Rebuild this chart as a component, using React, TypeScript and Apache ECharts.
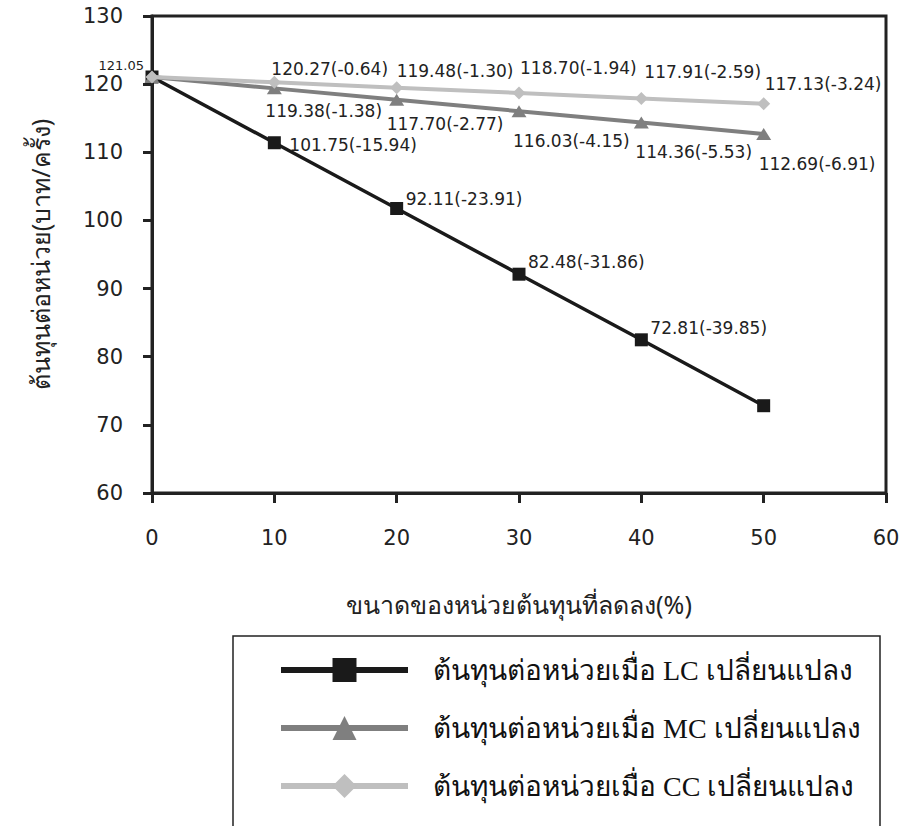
import React, { useEffect, useRef } from "react";
import * as echarts from "echarts";

const xValues = [0, 10, 20, 30, 40, 50];
const lcValues = [121.05, 111.4, 101.75, 92.11, 82.48, 72.81];
const mcValues = [121.05, 119.38, 117.7, 116.03, 114.36, 112.69];
const ccValues = [121.05, 120.27, 119.48, 118.7, 117.91, 117.13];

const lcLabels = ["", "101.75(-15.94)", "92.11(-23.91)", "82.48(-31.86)", "72.81(-39.85)", ""];
const mcLabels = ["", "119.38(-1.38)", "117.70(-2.77)", "116.03(-4.15)", "114.36(-5.53)", "112.69(-6.91)"];
const ccLabels = ["121.05", "120.27(-0.64)", "119.48(-1.30)", "118.70(-1.94)", "117.91(-2.59)", "117.13(-3.24)"];

const seriesNames = [
  "ต้นทุนต่อหน่วยเมื่อ LC เปลี่ยนแปลง",
  "ต้นทุนต่อหน่วยเมื่อ MC เปลี่ยนแปลง",
  "ต้นทุนต่อหน่วยเมื่อ CC เปลี่ยนแปลง",
];
const xAxisTitle = "ขนาดของหน่วยต้นทุนที่ลดลง(%)";
const yAxisTitle = "ต้นทุนต่อหน่วย(บาท/ครั้ง)";

// label placement (style only)
const lcOffsets = [null, [15, 2], [9, -10], [9, -12], [9, -12], null];
const mcOffsets = [null, [-9, 23], [-10, 24], [-6, 30], [-6, 29], [-5, 30]];
const ccOffsets = [[-8, -11], [-3, -13], [0, -17], [1, -25], [3, -26], [1, -20]];

const NUM_FONT = "'DejaVu Sans', sans-serif";
const THAI_FONT = "'Noto Sans', 'DejaVu Sans', sans-serif";
const SERIF_FONT = "'Liberation Serif', 'DejaVu Serif', serif";

function buildData(values: number[], labels: string[], offsets: any[]) {
  return values.map((v, i) => {
    const text = labels[i];
    const off = offsets[i] || [0, 0];
    const first = i === 0 && text === "121.05";
    return {
      value: [xValues[i], v],
      label: {
        show: !!text,
        formatter: text,
        position: "inside",
        align: first ? "right" : "left",
        verticalAlign: "middle",
        offset: off,
        color: "#222",
        fontSize: first ? 13 : 17,
        fontFamily: NUM_FONT,
        textBorderWidth: 0,
      },
    };
  });
}

export default function App() {
  const ref = useRef<HTMLDivElement>(null);
  useEffect(() => {
    document.body.style.margin = "0";
    if (!ref.current) return;
    const chart = echarts.init(ref.current, undefined, { renderer: "svg" });
    const axisColor = "#222";
    chart.setOption({
      animation: false,
      backgroundColor: "#fff",
      grid: {
        left: 152,
        right: 20,
        top: 16,
        bottom: 333,
        show: true,
        borderColor: axisColor,
        borderWidth: 3,
        backgroundColor: "transparent",
      },
      xAxis: {
        type: "value",
        min: 0,
        max: 60,
        interval: 10,
        name: xAxisTitle,
        nameLocation: "middle",
        nameGap: 98,
        nameTextStyle: { fontSize: 25, fontFamily: THAI_FONT, color: "#222" },
        axisLine: { lineStyle: { color: axisColor, width: 3 } },
        axisTick: { show: true, length: 10, lineStyle: { color: axisColor, width: 3 } },
        axisLabel: { margin: 34, fontSize: 21, fontFamily: NUM_FONT, color: "#222" },
        splitLine: { show: false },
      },
      yAxis: {
        type: "value",
        min: 60,
        max: 130,
        interval: 10,
        name: yAxisTitle,
        nameLocation: "middle",
        nameRotate: 90,
        nameGap: 100,
        nameTextStyle: { fontSize: 25, fontFamily: THAI_FONT, color: "#222" },
        axisLine: { show: true, lineStyle: { color: axisColor, width: 3 } },
        axisTick: { show: true, length: 9, lineStyle: { color: axisColor, width: 3 } },
        axisLabel: { margin: 29, fontSize: 21, fontFamily: NUM_FONT, color: "#222" },
        splitLine: { show: false },
      },
      legend: {
        orient: "vertical",
        left: 278,
        top: 656,
        padding: 0,
        itemWidth: 127,
        itemHeight: 30,
        itemGap: 30,
        lineStyle: { width: 6 },
        textStyle: {
          fontSize: 28,
          fontFamily: SERIF_FONT,
          color: "#111",
          padding: [0, 0, 0, 20],
        },
        data: seriesNames,
      },
      graphic: [
        {
          type: "rect",
          shape: { x: 233, y: 636, width: 647, height: 260 },
          style: { fill: "none", stroke: "#222", lineWidth: 1.5 },
          silent: true,
        },
      ],
      series: [
        {
          name: seriesNames[0],
          type: "line",
          data: buildData(lcValues, lcLabels, lcOffsets),
          symbol: "rect",
          symbolSize: 13,
          lineStyle: { color: "#1a1a1a", width: 3.5 },
          itemStyle: { color: "#1a1a1a" },
          z: 2,
        },
        {
          name: seriesNames[1],
          type: "line",
          data: buildData(mcValues, mcLabels, mcOffsets),
          symbol: "triangle",
          symbolSize: [15, 12],
          lineStyle: { color: "#7f7f7f", width: 4 },
          itemStyle: { color: "#7f7f7f" },
          z: 3,
        },
        {
          name: seriesNames[2],
          type: "line",
          data: buildData(ccValues, ccLabels, ccOffsets),
          symbol: "diamond",
          symbolSize: [13, 13],
          lineStyle: { color: "#bfbfbf", width: 4 },
          itemStyle: { color: "#bfbfbf" },
          z: 4,
        },
      ],
    });
    return () => chart.dispose();
  }, []);
  return <div ref={ref} style={{ width: 906, height: 826 }} />;
}
